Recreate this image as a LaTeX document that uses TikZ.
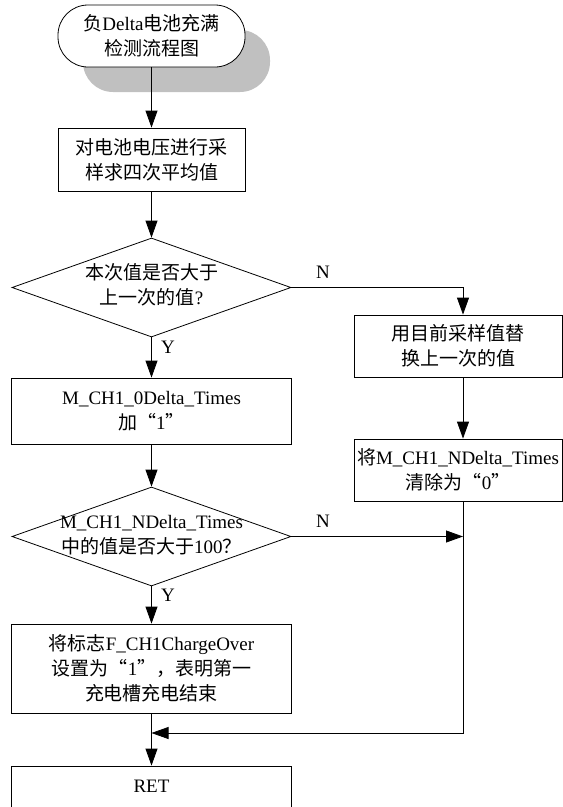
\documentclass[tikz,border=0pt]{standalone}
\usepackage{fontspec}
\setmainfont{Liberation Serif}
\newfontfamily\cjkfont{Noto Sans CJK SC}
\newcommand\zh[1]{{\cjkfont #1}}
\usetikzlibrary{arrows.meta,shapes.geometric}
\definecolor{shadowgray}{HTML}{C0C0C0}

\begin{document}
\begin{tikzpicture}[x=1pt,y=-1pt,
  line width=0.8pt,
  font=\fontsize{19}{25}\selectfont,
  box/.style={draw, fill=white, align=center, inner sep=0pt},
  term/.style={box, rounded corners=30pt, minimum width=187pt, minimum height=62pt},
  dia/.style={draw, diamond, inner sep=0pt, minimum width=279pt, minimum height=99pt},
  arr/.style={-{Triangle[length=17pt,width=12pt]}},
  lbl/.style={inner sep=0pt}]
\useasboundingbox (0,0) rectangle (563,807);

% start terminal with its grey shadow
\node[term, fill=shadowgray, draw=none] (startshadow) at (176.5,61) {};
\node[term] (start) at (151.5,36) {\zh{负}Delta\zh{电池充满}\\\zh{检测流程图}};

\node[box, minimum width=187pt, minimum height=63pt] (box1) at (151.5,159.5)
  {\zh{对电池电压进行采}\\\zh{样求四次平均值}};

\node[dia] (dia1) at (151.5,287.5) {};
\node[align=center, inner sep=0pt] (q1) at (151.5,285) {\zh{本次值是否大于}\\\zh{上一次的值}?};

\node[box, minimum width=208pt, minimum height=62pt] (box2) at (458,346)
  {\zh{用目前采样值替}\\\zh{换上一次的值}};

\node[box, minimum width=280pt, minimum height=66pt] (box3) at (151.5,411)
  {M\_CH1\_0Delta\_Times\\\zh{加“}1\zh{”}};

\node[box, minimum width=208pt, minimum height=62pt] (box4) at (458,470)
  {\zh{将}M\_CH1\_NDelta\_Times\\\zh{清除为“}0\zh{”}};

\node[dia] (dia2) at (151.5,536.5) {};
\node[align=center, inner sep=0pt] (q2) at (151.5,535) {M\_CH1\_NDelta\_Times\\\zh{中的值是否大于}100\zh{？}};

\node[box, minimum width=280pt, minimum height=89pt] (box5) at (151.5,668.5)
  {\zh{将标志}F\_CH1ChargeOver\\\zh{设置为“}1\zh{”，表明第一}\\\zh{充电槽充电结束}};

\node[box, minimum width=280pt, minimum height=64pt] (ret) at (151.5,798) {};
\node[inner sep=0pt] (rettext) at (151.5,786) {RET};

% column of the right-hand branch and merge point
\coordinate (col) at (463,0);
\coordinate (merge) at (151.5,733);

% connectors
\draw[arr] (start) -- (box1);
\draw[arr] (box1) -- (dia1);
\draw[arr] (dia1.south) -- (box3.north);
\draw[arr] (dia1.east) -| (col |- box2.north);
\draw[arr] (col |- box2.south) -- (col |- box4.north);
\draw[arr] (box3.south) -- (dia2.north);
\draw[arr] (dia2.east) -- (col |- dia2.east);
\draw[arr] (dia2.south) -- (box5.north);
\draw[arr] (box5.south) -- (ret.north);
\draw[arr] (col |- box4.south) |- (merge);

% branch labels
\node[lbl] (n1) at (323,272) {N};
\node[lbl] (y1) at (168,347) {Y};
\node[lbl] (n2) at (323,521) {N};
\node[lbl] (y2) at (168,595) {Y};
\end{tikzpicture}
\end{document}
